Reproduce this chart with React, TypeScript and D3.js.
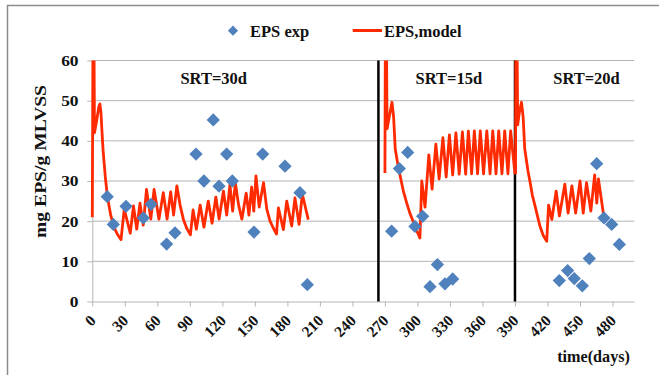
import React from 'react';
import * as d3 from 'd3';

// axis ticks
const dayTicks = [0, 30, 60, 90, 120, 150, 180, 210, 240, 270, 300, 330, 360, 390, 420, 450, 480];
const epsTicks = [0, 10, 20, 30, 40, 50, 60];

// SRT periods: label, label centre day, switch days (black lines)
const srtLabels = ['SRT=30d', 'SRT=15d', 'SRT=20d'];
const srtLabelDays = [112, 329, 456];
const srtSwitchDays = [264, 390];

// measured EPS (mg EPS/g MLVSS)
const expDays = [13.8, 19.4, 31.1, 47.1, 54.2, 68.6, 76.3, 95.7, 103, 111.6, 116.9, 124, 129.2, 149.2, 157.2, 177.8, 191.6, 198.4,
    276.2, 283.3, 291, 297.7, 304.8, 311.6, 318.4, 325.4, 332.5,
    430.9, 438.6, 444.7, 452.1, 458.6, 465.4, 472.1, 479.2, 486.3];
const expValues = [26.1, 19.2, 23.7, 20.8, 24.2, 14.3, 17.1, 36.7, 30, 45.2, 28.7, 36.7, 30, 17.3, 36.7, 33.7, 27.1, 4.2,
    17.5, 33.1, 37.1, 18.7, 21.2, 3.7, 9.2, 4.4, 5.6,
    5.2, 7.7, 5.7, 3.9, 10.7, 34.3, 20.8, 19.2, 14.2];

// model EPS, one run per SRT period: [day, value]
const modelSrt30: [number, number][] = [
    [0, 21], [1, 95], [2, 42], [4, 45], [6, 48.5], [7, 49.2], [8, 47], [9, 42], [10, 37.5], [12, 31], [14, 26], [17, 21.5],
    [20, 18.5], [23, 16.8], [26.5, 15.4], [29.5, 23], [35, 17], [38, 23.8], [41, 18], [44, 24.5], [47, 19], [50, 27.9],
    [54, 20.5], [57, 27.9], [61.5, 20.5], [65.5, 27.1], [69, 20.5], [72.3, 27.3], [75, 21.5], [78, 28.8], [81, 24],
    [84, 20.5], [87, 18.3], [90.5, 16.6], [93, 22.8], [96, 18], [99.5, 24], [103, 18.5], [107, 25], [110.5, 19.5],
    [114, 26], [117, 20.5], [121, 27.5], [124, 21.5], [127, 29], [129.5, 22.5], [132, 29.5], [135, 24], [138, 20.5],
    [142, 27], [144.5, 21.5], [147, 28.5], [149, 22.5], [151, 31.3], [154, 23.5], [158, 29.6], [161, 23], [164, 20],
    [167, 18.3], [170, 16.8], [171.7, 23.3], [176.3, 17.9], [179.4, 25], [184, 18.8], [187, 25.8], [190.8, 19.2],
    [193.8, 26.7], [199.3, 20.4],
];
const modelSrt15: [number, number][] = [
    [270, 32], [270.7, 95], [272, 43], [274, 46], [276.5, 49.6], [278, 46], [279.5, 38], [282, 34], [284, 31.3],
    [287, 27.5], [290, 24.6], [293, 22], [296, 20], [299, 17.8], [302.3, 15.8], [304, 30], [307, 23.5], [310.5, 36.5],
    [313.5, 28], [317, 39.2], [320, 30.5], [323.5, 40.8], [326.5, 31], [329.5, 41.5], [332.5, 31.5], [335.5, 42],
    [338.5, 31.7], [341.5, 42.2], [344.5, 31.7], [347, 42.4], [350, 31.8], [352.5, 42.5], [355.5, 31.8], [358, 42.5],
    [361, 31.8], [364, 42.5], [367, 31.8], [369.5, 42.5], [372.5, 31.8], [375, 42.5], [378, 31.8], [380.5, 42.5],
    [383.5, 31.8], [386, 42.5], [390, 31.7],
];
const modelSrt20: [number, number][] = [
    [390.5, 31.7], [391, 95], [392.5, 44], [394, 47], [396, 49.6], [397.5, 46], [399, 38], [402, 32.5], [404, 29.6],
    [406, 26.5], [408.5, 23.8], [411, 21], [413, 18.8], [416, 16.5], [419.3, 15], [421, 24], [424, 20.4], [428, 27.5],
    [431, 21.3], [436, 29.2], [439, 22], [442.5, 28.8], [446, 22], [450, 30], [453, 22], [456, 29.6], [460, 22.5],
    [463.5, 31.5], [465.5, 24.5], [467, 30.5], [471.5, 22],
];

const FONT = '"Liberation Serif", "Times New Roman", serif';

class App extends React.Component {
    node: SVGSVGElement | null = null;

    componentDidMount() {
        this.drawChart();
    }

    drawChart() {
        const svg = d3.select(this.node);
        svg.selectAll('*').remove();

        const x = d3.scaleLinear().domain([0, 500]).range([92.3, 634.2]);
        const y = d3.scaleLinear().domain([0, 60]).range([301.5, 60.5]);

        // outer frame
        svg.append('rect')
            .attr('x', 7.5).attr('y', 5.5)
            .attr('width', 700).attr('height', 400)
            .attr('fill', 'none')
            .attr('stroke', '#8c8c8c')
            .attr('stroke-width', 1.5);

        // gridlines
        svg.append('g')
            .selectAll('line')
            .data(epsTicks.filter((t) => t > 0))
            .enter()
            .append('line')
            .attr('x1', x(0)).attr('x2', x(500))
            .attr('y1', (d) => y(d)).attr('y2', (d) => y(d))
            .attr('stroke', '#b5b5b5')
            .attr('stroke-width', 1);

        // y axis
        const yAxis = svg.append('g')
            .attr('transform', `translate(${x(0)},0)`)
            .call(d3.axisLeft(y).tickValues(epsTicks).tickSize(5).tickSizeOuter(0));
        yAxis.select('.domain').attr('stroke', '#b5b5b5');
        yAxis.selectAll('.tick line').attr('stroke', '#b5b5b5');
        yAxis.selectAll('.tick text')
            .attr('x', -11.5)
            .attr('dy', '0.34em')
            .attr('transform', 'scale(1.2,1)')
            .attr('fill', '#111')
            .style('font-family', FONT)
            .style('font-weight', 'bold')
            .style('font-size', '14.5px');

        // x axis
        const xAxis = svg.append('g')
            .attr('transform', `translate(0,${y(0)})`)
            .call(d3.axisBottom(x).tickValues(dayTicks).tickSize(5).tickSizeOuter(0));
        xAxis.select('.domain').attr('stroke', '#b5b5b5');
        xAxis.selectAll('.tick line').attr('stroke', '#b5b5b5');
        xAxis.selectAll('.tick text')
            .attr('x', 0).attr('y', 0).attr('dy', 0)
            .attr('transform', 'translate(4,20) rotate(-45)')
            .attr('text-anchor', 'end')
            .attr('fill', '#111')
            .style('font-family', FONT)
            .style('font-weight', 'bold')
            .style('font-size', '15.5px');

        // SRT switch lines
        svg.append('g')
            .selectAll('line')
            .data(srtSwitchDays)
            .enter()
            .append('line')
            .attr('x1', (d) => x(d)).attr('x2', (d) => x(d))
            .attr('y1', y(0)).attr('y2', y(60))
            .attr('stroke', '#000')
            .attr('stroke-width', 2.5);

        // model lines, clipped to plot area
        svg.append('clipPath')
            .attr('id', 'plotclip')
            .append('rect')
            .attr('x', x(0) - 3).attr('y', y(60))
            .attr('width', x(500) - x(0) + 3).attr('height', y(0) - y(60));

        const line = d3.line<[number, number]>()
            .x((d) => x(d[0]))
            .y((d) => y(d[1]));

        svg.append('g')
            .attr('clip-path', 'url(#plotclip)')
            .selectAll('path')
            .data([modelSrt30, modelSrt15, modelSrt20])
            .enter()
            .append('path')
            .attr('d', (d) => line(d))
            .attr('fill', 'none')
            .attr('stroke', '#ff2a00')
            .attr('stroke-width', 2.8)
            .attr('stroke-linejoin', 'round');

        // experimental points
        const diamond = d3.symbol().type(d3.symbolSquare).size(88);
        svg.append('g')
            .selectAll('path')
            .data(expDays.map((d, i) => [d, expValues[i]]))
            .enter()
            .append('path')
            .attr('d', diamond)
            .attr('transform', (d) => `translate(${x(d[0])},${y(d[1])}) rotate(45)`)
            .attr('fill', '#4f81bd');

        // SRT labels
        svg.append('g')
            .selectAll('text')
            .data(srtLabels)
            .enter()
            .append('text')
            .attr('x', (d, i) => x(srtLabelDays[i]))
            .attr('y', 84)
            .attr('text-anchor', 'middle')
            .attr('fill', '#111')
            .style('font-family', FONT)
            .style('font-weight', 'bold')
            .style('font-size', '16.5px')
            .text((d) => d);

        // legend
        const legend = svg.append('g');
        legend.append('path')
            .attr('d', d3.symbol().type(d3.symbolSquare).size(52))
            .attr('transform', 'translate(233,30.7) rotate(45)')
            .attr('fill', '#4f81bd');
        legend.append('text')
            .attr('x', 250).attr('y', 36.5)
            .attr('fill', '#111')
            .style('font-family', FONT)
            .style('font-weight', 'bold')
            .style('font-size', '16.5px')
            .text('EPS exp');
        legend.append('line')
            .attr('x1', 352.7).attr('x2', 382)
            .attr('y1', 30.5).attr('y2', 30.5)
            .attr('stroke', '#ff2a00')
            .attr('stroke-width', 3);
        legend.append('text')
            .attr('x', 384).attr('y', 36.5)
            .attr('fill', '#111')
            .style('font-family', FONT)
            .style('font-weight', 'bold')
            .style('font-size', '16.5px')
            .text('EPS,model');

        // axis titles
        svg.append('text')
            .attr('transform', 'translate(45.5,161.5) rotate(-90)')
            .attr('text-anchor', 'middle')
            .attr('textLength', 153)
            .attr('lengthAdjust', 'spacingAndGlyphs')
            .attr('fill', '#111')
            .style('font-family', FONT)
            .style('font-weight', 'bold')
            .style('font-size', '16.5px')
            .text('mg EPS/g MLVSS');

        svg.append('text')
            .attr('x', 630).attr('y', 362)
            .attr('text-anchor', 'end')
            .attr('fill', '#111')
            .style('font-family', FONT)
            .style('font-weight', 'bold')
            .style('font-size', '16.2px')
            .text('time(days)');
    }

    render() {
        return (
            <svg
                ref={(node) => { this.node = node; }}
                width={659}
                height={375}
                style={{ position: 'absolute', left: 0, top: 0, background: '#fff' }}
            />
        );
    }
}

export default App;
